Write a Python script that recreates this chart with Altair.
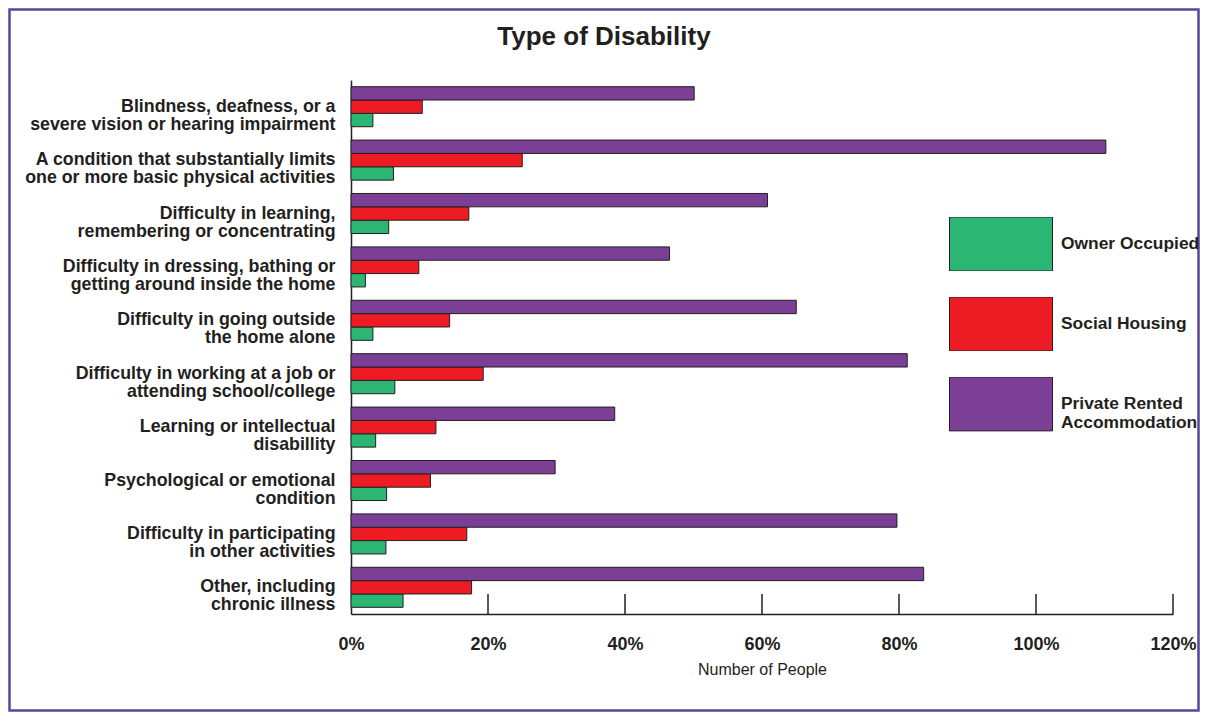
import altair as alt
import pandas as pd

# ---- data ----
categories = [
    "Blindness, deafness, or a|severe vision or hearing impairment",
    "A condition that substantially limits|one or more basic physical activities",
    "Difficulty in learning,|remembering or concentrating",
    "Difficulty in dressing, bathing or|getting around inside the home",
    "Difficulty in going outside|the home alone",
    "Difficulty in working at a job or|attending school/college",
    "Learning or intellectual|disabillity",
    "Psychological or emotional|condition",
    "Difficulty in participating|in other activities",
    "Other, including|chronic illness",
]
series = ["Owner Occupied", "Social Housing", "Private Rented Accommodation"]
owner_occupied = [3.2, 6.2, 5.5, 2.1, 3.2, 6.4, 3.6, 5.2, 5.1, 7.6]
social_housing = [10.4, 25.0, 17.2, 9.9, 14.4, 19.3, 12.4, 11.6, 16.9, 17.6]
private_rented = [50.1, 110.2, 60.8, 46.5, 65.0, 81.2, 38.5, 29.8, 79.7, 83.6]
x_ticks = [0, 20, 40, 60, 80, 100, 120]
colors = ["#2bb673", "#ed1c24", "#7b3f96"]

rows = []
for i, c in enumerate(categories):
    for s, vals in zip(series, [owner_occupied, social_housing, private_rented]):
        rows.append({"category": c, "series": s, "value": vals[i]})
df = pd.DataFrame(rows)

W, H = 822, 534
xscale = alt.Scale(domain=[0, 120], nice=False, zero=True)
xaxis = alt.Axis(values=x_ticks, labelExpr="datum.value + '%'",
                 grid=False, ticks=False, tickSize=0,
                 labelPadding=21, labelFontSize=18, labelFontWeight="bold",
                 labelColor="#231f20", titleFontSize=16, titleFontWeight="normal",
                 titleColor="#231f20", titlePadding=8, domainColor="#231f20",
                 domainWidth=1.5, labelFlush=False)

bars = alt.Chart(df).mark_bar(stroke="#231f20", strokeWidth=1, opacity=1).encode(
    x=alt.X("value:Q", scale=xscale, title="Number of People", axis=xaxis),
    y=alt.Y("category:N", sort=categories,
            scale=alt.Scale(paddingInner=0.25, paddingOuter=0.125),
            axis=alt.Axis(title=None, ticks=False, tickSize=0, labelPadding=16,
                          labelExpr="split(datum.label, '|')", labelFontSize=17.8,
                          labelFontWeight="bold", labelColor="#231f20", labelLineHeight=18,
                          labelLimit=0, domainColor="#231f20", domainWidth=1.5)),
    yOffset=alt.YOffset("series:N", sort=list(reversed(series)),
                        scale=alt.Scale(paddingInner=0, paddingOuter=0)),
    color=alt.Color("series:N", sort=series,
                    scale=alt.Scale(domain=series, range=colors),
                    legend=alt.Legend(title=None, orient="none", legendX=598, legendY=137,
                                      symbolType="M-1,-0.5243H1V0.5243H-1Z",
                                      symbolSize=10609, clipHeight=54, rowPadding=26,
                                      labelOffset=8, labelFontSize=17.4, labelFontWeight="bold",
                                      labelColor="#231f20", symbolStrokeColor="#231f20",
                                      symbolStrokeWidth=1, symbolOpacity=1, padding=0,
                                      labelLimit=0,
                                      labelExpr="datum.label == 'Private Rented Accommodation' ? ['Private Rented', 'Accommodation'] : datum.label")),
)

tick_df = pd.DataFrame({"t": x_ticks[1:]})
ticks = alt.Chart(tick_df).mark_rule(color="#231f20", strokeWidth=1.5).encode(
    x=alt.X("t:Q", scale=xscale, title="Number of People", axis=xaxis),
    y=alt.value(H - 20), y2=alt.value(H),
)

frame = alt.Chart(alt.Data(values=[{}])).mark_rect(
    fillOpacity=0, stroke="#5b4499", strokeWidth=2.5
).encode(x=alt.value(-341.5), x2=alt.value(847.5), y=alt.value(-70.5), y2=alt.value(630.5))

title = alt.Chart(alt.Data(values=[{}])).mark_text(
    text="Type of Disability", fontSize=26, fontWeight="bold", color="#231f20",
    align="center", baseline="alphabetic"
).encode(x=alt.value(253), y=alt.value(-35))

chart = alt.layer(frame, title, bars, ticks).properties(
    width=W, height=H,
    padding={"left": 343, "top": 72, "right": 27, "bottom": 98},
    autosize=alt.AutoSizeParams(type="none"),
).configure(font="Liberation Sans").configure_view(stroke=None)

chart.save("out.html", embed_options={"renderer": "svg", "actions": False})
